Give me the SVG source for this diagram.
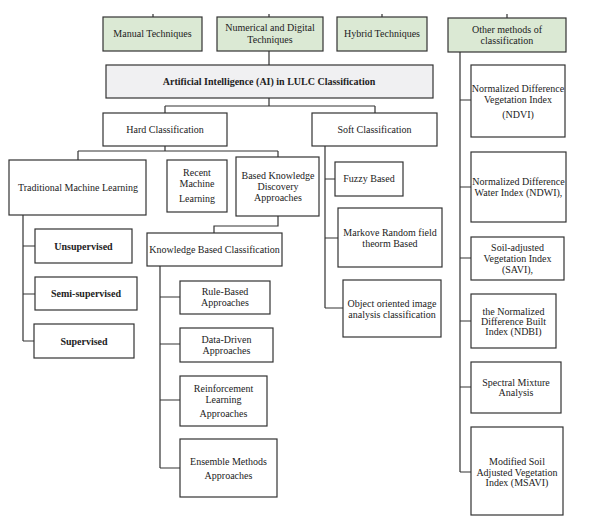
<svg xmlns="http://www.w3.org/2000/svg" width="592" height="531" viewBox="0 0 592 531">
<style>
.b{fill:#fff;stroke:#333;stroke-width:1.2}
.g{fill:#dbe9d4;stroke:#333;stroke-width:1.2}
.a{fill:#f0f0f2;stroke:#333;stroke-width:1.2}
.c{fill:none;stroke:#333;stroke-width:1.2}
text{font-family:"Liberation Serif","Times New Roman",serif;font-size:10px;fill:#222;text-anchor:middle}
.bd{font-weight:bold}
</style>
<rect width="592" height="531" fill="#fff"/>
<g id="connectors">
<path class="c" d="M153 14V17M269 14V17M382 14V17M507 14V18"/>
<path class="c" d="M269 51V65M269 98V106M165 106H375M165 106V113M375 106V113"/>
<path class="c" d="M165 146V151M78 151H278M78 151V160M278 151V157"/>
<path class="c" d="M23 215V341M23 246H35M23 294H35M23 341H34"/>
<path class="c" d="M278 216V226H214V233"/>
<path class="c" d="M160 266V468M160 297H180M160 344H180M160 400H180M160 468H180"/>
<path class="c" d="M325 146V308M325 179H335M325 238H338M325 308H343"/>
<path class="c" d="M460 52V472M460 100H471M460 187H471M460 258H471M460 321H471M460 387H471M460 472H471"/>
</g>
<g id="manual"><rect class="g" x="103" y="17" width="99" height="34"/><text x="152.5" y="37">Manual Techniques</text></g>
<g id="numerical"><rect class="g" x="217" y="17" width="106" height="34"/><text x="270" y="31">Numerical and  Digital</text><text x="270" y="43">Techniques</text></g>
<g id="hybrid"><rect class="g" x="337" y="17" width="90" height="34"/><text x="382" y="37">Hybrid Techniques</text></g>
<g id="other"><rect class="g" x="448" y="18" width="118" height="34"/><text x="507" y="33">Other methods  of</text><text x="507" y="44">classification</text></g>
<g id="ai"><rect class="a" x="106" y="65" width="327" height="33"/><text class="bd" x="269" y="85">Artificial Intelligence (AI) in LULC Classification</text></g>
<g id="hard"><rect class="b" x="103" y="113" width="124" height="33"/><text x="165" y="133">Hard Classification</text></g>
<g id="soft"><rect class="b" x="312" y="113" width="125" height="33"/><text x="374.5" y="133">Soft Classification</text></g>
<g id="traditional"><rect class="b" x="9" y="160" width="137" height="55"/><text x="78" y="191">Traditional Machine Learning</text></g>
<g id="recent"><rect class="b" x="167" y="160" width="60" height="52"/><text x="197" y="176">Recent</text><text x="197" y="187">Machine</text><text x="197" y="202">Learning</text></g>
<g id="based"><rect class="b" x="236" y="157" width="83" height="59"/><text x="278" y="179">Based Knowledge</text><text x="278" y="190">Discovery</text><text x="278" y="201">Approaches</text></g>
<g id="unsupervised"><rect class="b" x="35" y="229" width="97" height="34"/><text class="bd" x="83.5" y="250">Unsupervised</text></g>
<g id="semi"><rect class="b" x="35" y="277" width="102" height="33"/><text class="bd" x="86" y="297">Semi-supervised</text></g>
<g id="supervised"><rect class="b" x="34" y="324" width="100" height="34"/><text class="bd" x="84" y="345">Supervised</text></g>
<g id="kbc"><rect class="b" x="147" y="233" width="135" height="33"/><text x="214.5" y="253">Knowledge Based Classification</text></g>
<g id="rule"><rect class="b" x="180" y="281" width="90" height="33"/><text x="225" y="295">Rule-Based</text><text x="225" y="306">Approaches</text></g>
<g id="data"><rect class="b" x="180" y="328" width="93" height="34"/><text x="226.5" y="343">Data-Driven</text><text x="226.5" y="354">Approaches</text></g>
<g id="reinf"><rect class="b" x="180" y="376" width="87" height="50"/><text x="223.5" y="392">Reinforcement</text><text x="223.5" y="403">Learning</text><text x="223.5" y="417">Approaches</text></g>
<g id="ensemble"><rect class="b" x="180" y="439" width="97" height="58"/><text x="228.5" y="465">Ensemble  Methods</text><text x="228.5" y="479">Approaches</text></g>
<g id="fuzzy"><rect class="b" x="335" y="162" width="68" height="34"/><text x="369" y="182">Fuzzy Based</text></g>
<g id="markove"><rect class="b" x="338" y="208" width="104" height="59"/><text x="390" y="236">Markove Random field</text><text x="390" y="247">theorm Based</text></g>
<g id="object"><rect class="b" x="343" y="280" width="98" height="57"/><text x="392" y="307">Object oriented image</text><text x="392" y="318">analysis classification</text></g>
<g id="ndvi"><rect class="b" x="471" y="65" width="94" height="72"/><text x="518" y="92">Normalized Difference</text><text x="518" y="103">Vegetation  Index</text><text x="518" y="118">(NDVI)</text></g>
<g id="ndwi"><rect class="b" x="471" y="152" width="95" height="70"/><text x="518.5" y="185">Normalized Difference</text><text x="518.5" y="196">Water Index (NDWI),</text></g>
<g id="savi"><rect class="b" x="471" y="237" width="93" height="43"/><text x="517.5" y="251">Soil-adjusted</text><text x="517.5" y="262">Vegetation Index</text><text x="517.5" y="273">(SAVI),</text></g>
<g id="ndbi"><rect class="b" x="471" y="294" width="85" height="54"/><text x="513.5" y="315">the Normalized</text><text x="513.5" y="325">Difference Built</text><text x="513.5" y="335">Index (NDBI)</text></g>
<g id="spectral"><rect class="b" x="471" y="362" width="90" height="51"/><text x="516" y="386">Spectral Mixture</text><text x="516" y="396">Analysis</text></g>
<g id="msavi"><rect class="b" x="471" y="427" width="92" height="88"/><text x="517" y="465">Modified Soil</text><text x="517" y="476">Adjusted Vegetation</text><text x="517" y="486">Index (MSAVI)</text></g>
</svg>
